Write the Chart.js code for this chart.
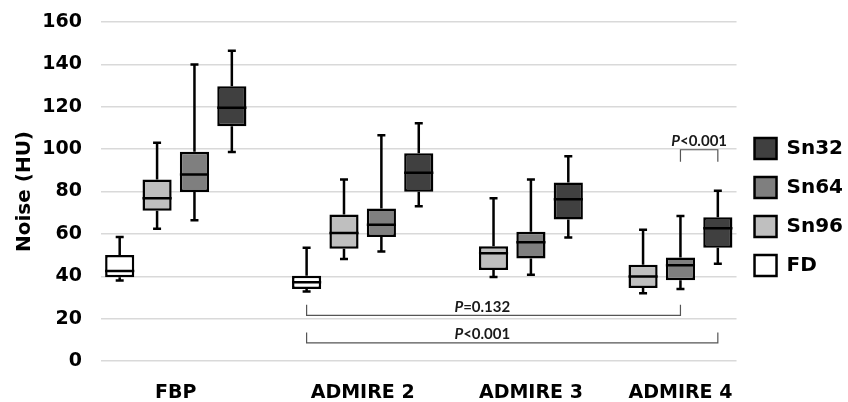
<!DOCTYPE html>
<html>
<head>
    <meta charset="UTF-8">
    <title>Noise (HU)</title>
    <script src="https://cdn.jsdelivr.net/npm/chart.js"></script>
    <style>
        body {
            margin: 0;
            background-color: white;
        }
        #wrap {
            width: 848px;
            height: 402px;
        }
    </style>
</head>
<body>
    <div id="wrap"><canvas id="myChart" width="848" height="402"></canvas></div>

    <script>
        // groups on the x axis
        const groups = ['FBP', 'ADMIRE 2', 'ADMIRE 3', 'ADMIRE 4'];
        const series = ['FD', 'Sn96', 'Sn64', 'Sn32'];
        const colors = ['#ffffff', '#bfbfbf', '#7f7f7f', '#404040'];

        // [min, q1, median, q3, max] per group, null = no box
        const fd   = [[38, 39.5, 42.5, 50, 58.5], [32.8, 34, 37.2, 40.2, 53.4], null, null];
        const sn96 = [[62.4, 70.9, 76.8, 85.7, 103], [48.2, 53, 60.4, 69.2, 85.7], [39.7, 42.9, 50.8, 54.2, 76.8], [32, 34.5, 39.9, 45.4, 61.9]];
        const sn64 = [[66.4, 79.8, 88, 98.8, 140], [51.7, 58.5, 64.3, 72, 106.6], [40.7, 48.4, 56.1, 61, 85.7], [34, 38.1, 45.2, 48.9, 68.4]];
        const sn32 = [[98.7, 110.8, 119.5, 129.7, 146.4], [73, 79.9, 88.9, 98, 112.2], [58.3, 66.8, 76.3, 84.3, 96.6], [45.9, 53.4, 62.7, 67.8, 80.4]];
        const yTicks = [0, 20, 40, 60, 80, 100, 120, 140, 160];

        // significance brackets
        const pText = ['=0.132', '<0.001', '<0.001'];
        const pFrom = [['ADMIRE 2', 'FD'], ['ADMIRE 2', 'FD'], ['ADMIRE 4', 'Sn64']];
        const pTo = [['ADMIRE 4', 'Sn64'], ['ADMIRE 4', 'Sn32'], ['ADMIRE 4', 'Sn32']];
        const pLevel = [21.5, 8.6, 99.7];
        const pTick = [26.6, 13.4, 94];

        const allStats = [fd, sn96, sn64, sn32];

        // slot on the x axis for each box, empty slot between groups
        const slots = {};
        const groupCenter = [];
        let pos = 0;
        groups.forEach((g, gi) => {
            const start = pos;
            series.forEach((s, si) => {
                if (allStats[si][gi]) {
                    slots[g + '|' + s] = pos;
                    pos++;
                }
            });
            groupCenter.push((start + pos - 1) / 2);
            pos++;
        });
        const lastSlot = pos - 2;

        const datasets = series.map((s, si) => {
            const data = [];
            const stats = [];
            groups.forEach((g, gi) => {
                const st = allStats[si][gi];
                if (st) {
                    data.push({ x: slots[g + '|' + s], y: [st[1], st[3]] });
                    stats.push(st);
                }
            });
            return {
                label: s,
                data: data,
                stats: stats,
                backgroundColor: colors[si],
                borderColor: '#000',
                borderWidth: 2.5,
                borderSkipped: false,
                grouped: false,
                barPercentage: 0.78,
                categoryPercentage: 1
            };
        });

        const boxPlugin = {
            id: 'boxWhiskers',
            afterDatasetsDraw(chart) {
                const ctx = chart.ctx;
                const y = chart.scales.y;
                ctx.save();
                ctx.strokeStyle = '#000';
                ctx.lineWidth = 2.5;
                chart.data.datasets.forEach((ds, i) => {
                    chart.getDatasetMeta(i).data.forEach((bar, j) => {
                        const st = ds.stats[j];
                        const half = bar.width / 2;
                        const pMin = y.getPixelForValue(st[0]);
                        const pQ1 = y.getPixelForValue(st[1]);
                        const pMed = y.getPixelForValue(st[2]);
                        const pQ3 = y.getPixelForValue(st[3]);
                        const pMax = y.getPixelForValue(st[4]);
                        ctx.beginPath();
                        ctx.moveTo(bar.x, pQ3); ctx.lineTo(bar.x, pMax);
                        ctx.moveTo(bar.x - 4, pMax); ctx.lineTo(bar.x + 4, pMax);
                        ctx.moveTo(bar.x, pQ1); ctx.lineTo(bar.x, pMin);
                        ctx.moveTo(bar.x - 4, pMin); ctx.lineTo(bar.x + 4, pMin);
                        ctx.moveTo(bar.x - half, pMed); ctx.lineTo(bar.x + half, pMed);
                        ctx.stroke();
                    });
                });
                ctx.restore();
            },
            afterDraw(chart) {
                const ctx = chart.ctx;
                const x = chart.scales.x;
                const y = chart.scales.y;
                ctx.save();
                pText.forEach((t, i) => {
                    const x1 = x.getPixelForValue(slots[pFrom[i].join('|')]);
                    const x2 = x.getPixelForValue(slots[pTo[i].join('|')]);
                    const yl = y.getPixelForValue(pLevel[i]);
                    const yt = y.getPixelForValue(pTick[i]);
                    ctx.strokeStyle = '#555';
                    ctx.lineWidth = 1.2;
                    ctx.beginPath();
                    ctx.moveTo(x1, yt); ctx.lineTo(x1, yl); ctx.lineTo(x2, yl); ctx.lineTo(x2, yt);
                    ctx.stroke();
                    // label: italic P then the rest
                    ctx.fillStyle = '#1a1a1a';
                    ctx.textBaseline = 'alphabetic';
                    ctx.font = 'italic bold 15px Lato';
                    const wP = ctx.measureText('P').width;
                    ctx.font = 'bold 15px Lato';
                    const wR = ctx.measureText(t).width;
                    let cx = (x1 + x2) / 2;
                    if (i < 2) cx = x.getPixelForValue(9.7);
                    const tx = cx - (wP + wR) / 2;
                    const ty = yl - 3.5;
                    ctx.font = 'italic bold 15px Lato';
                    ctx.fillText('P', tx, ty);
                    ctx.font = 'bold 15px Lato';
                    ctx.fillText(t, tx + wP, ty);
                });
                ctx.restore();
            }
        };

        const ctx = document.getElementById('myChart').getContext('2d');
        const chart = new Chart(ctx, {
            type: 'bar',
            data: { datasets: datasets },
            plugins: [boxPlugin],
            options: {
                responsive: false,
                animation: false,
                layout: { padding: { top: 22, right: -5, left: 13, bottom: 0 } },
                plugins: {
                    legend: {
                        position: 'right',
                        fullSize: false,
                        reverse: true,
                        // empty title only pushes the items down a little
                        title: {
                            display: true,
                            text: ' ',
                            color: 'rgba(0,0,0,0)',
                            padding: 0,
                            font: { size: 26 }
                        },
                        labels: {
                            boxWidth: 22,
                            boxHeight: 21,
                            padding: 18,
                            color: '#000',
                            font: { family: '"DejaVu Sans"', weight: 'bold', size: 20 }
                        }
                    },
                    tooltip: { enabled: false }
                },
                scales: {
                    x: {
                        type: 'linear',
                        offset: false,
                        min: -0.5,
                        max: lastSlot + 0.5,
                        grid: { display: false, drawTicks: false },
                        border: { display: false },
                        afterBuildTicks: (axis) => {
                            axis.ticks = groupCenter.map(v => ({ value: v }));
                        },
                        afterFit: (axis) => {
                            axis.height = 41;
                            axis.paddingLeft = 0;
                            axis.paddingRight = 0;
                        },
                        ticks: {
                            color: '#000',
                            padding: 21,
                            autoSkip: false,
                            maxRotation: 0,
                            minRotation: 0,
                            font: { family: '"DejaVu Sans"', weight: 'bold', size: 19 },
                            callback: (v) => groups[groupCenter.indexOf(v)]
                        }
                    },
                    y: {
                        min: 0,
                        max: 160,
                        afterBuildTicks: (axis) => {
                            axis.ticks = yTicks.map(v => ({ value: v }));
                        },
                        afterFit: (axis) => {
                            axis.width = 88;
                            axis.paddingTop = 0;
                            axis.paddingBottom = 0;
                        },
                        grid: { color: '#d9d9d9', lineWidth: 1.5, drawTicks: false },
                        border: { display: false },
                        title: {
                            display: true,
                            text: 'Noise (HU)',
                            color: '#000',
                            font: { family: '"DejaVu Sans"', weight: 'bold', size: 20 },
                            padding: 0
                        },
                        ticks: {
                            color: '#000',
                            padding: 19,
                            font: { family: '"DejaVu Sans"', weight: 'bold', size: 19 }
                        }
                    }
                }
            }
        });
    </script>
</body>
</html>
